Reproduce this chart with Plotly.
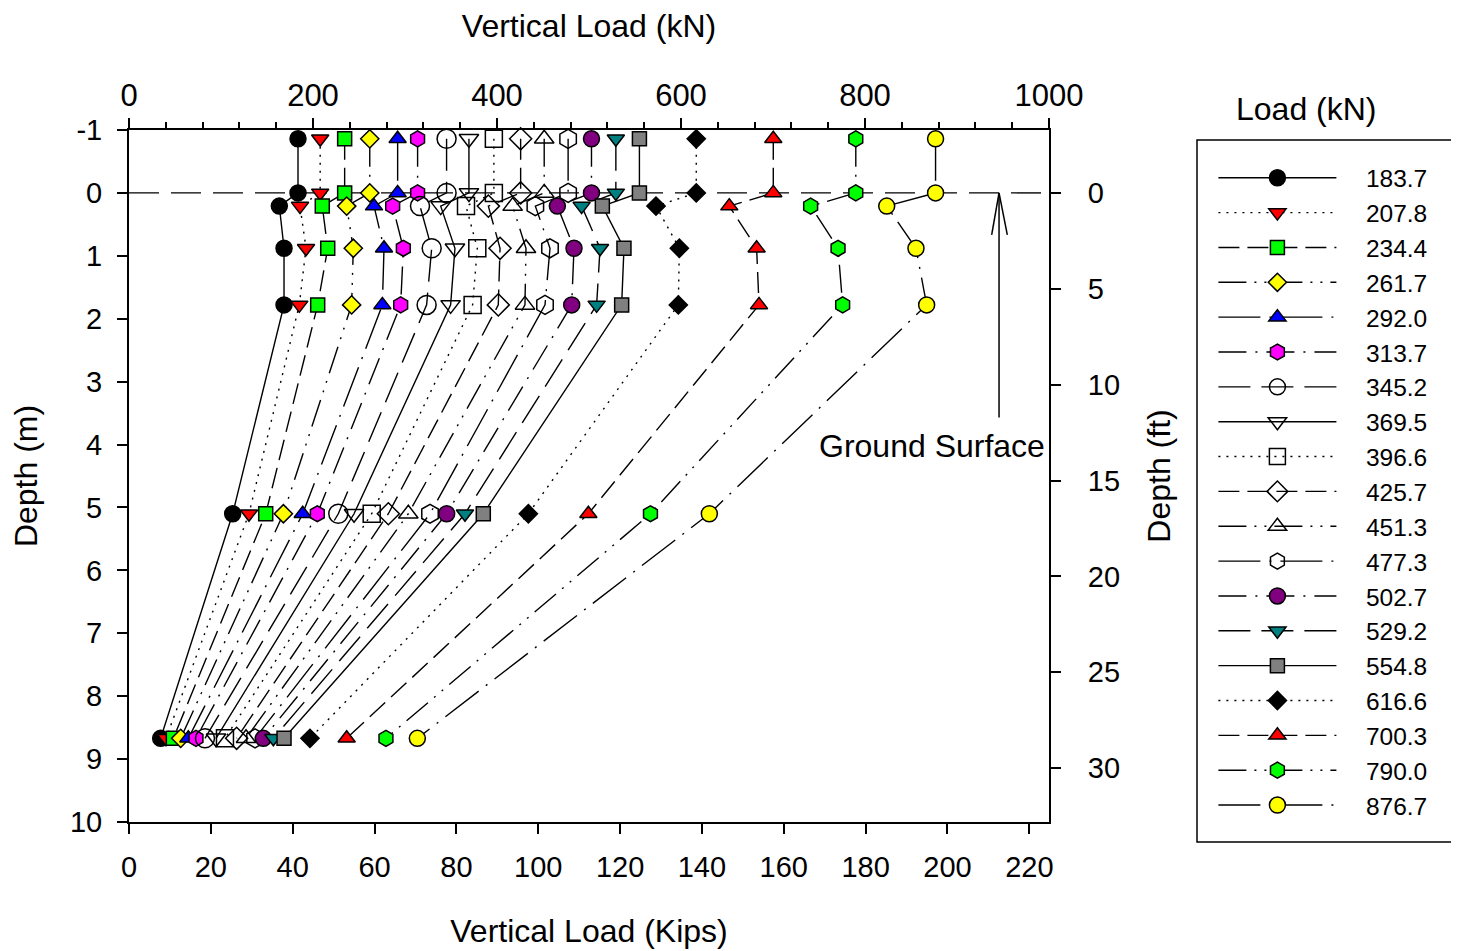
import plotly.graph_objects as go

# ---------------- data ----------------
loads_kN = [183.7, 207.8, 234.4, 261.7, 292.0, 313.7, 345.2, 369.5, 396.6, 425.7,
            451.3, 477.3, 502.7, 529.2, 554.8, 616.6, 700.3, 790.0, 876.7]

depths_m = [-0.86, 0.0, 0.21, 0.88, 1.78, 5.10, 8.67]

# vertical load (kN) measured at each depth, one value per load step
load_at_0p21 = [163.4, 185.9, 210.1, 236.6, 266.3, 286.6, 316.3, 338.8, 366.3, 390.6,
                417.0, 441.7, 465.6, 492.0, 514.5, 572.8, 652.5, 740.9, 823.6]
load_at_0p88 = [168.5, 192.4, 216.0, 243.8, 277.2, 298.2, 329.0, 354.3, 378.6, 403.3,
                431.5, 457.6, 483.7, 512.0, 538.0, 598.2, 682.2, 770.7, 855.4]
load_at_1p78 = [168.5, 185.1, 205.1, 242.0, 275.4, 295.3, 323.5, 349.6, 373.5, 401.4,
                430.4, 452.2, 481.2, 508.3, 535.5, 597.1, 684.8, 775.7, 867.0]
load_at_5p10 = [112.7, 130.4, 148.6, 167.8, 188.8, 204.7, 227.5, 244.6, 263.8, 281.9,
                303.6, 327.2, 345.3, 365.2, 385.1, 434.1, 499.3, 566.8, 630.8]
load_at_8p67 = [34.4, 40.2, 48.2, 56.2, 64.5, 72.8, 82.6, 94.6, 104.3, 117.0,
                127.2, 137.0, 146.0, 156.9, 168.5, 196.7, 236.6, 279.3, 313.4]

depth_m_ticks = [-1, 0, 1, 2, 3, 4, 5, 6, 7, 8, 9, 10]
depth_m_labels = ["-1", "0", "1", "2", "3", "4", "5", "6", "7", "8", "9", "10"]

kN_per_kip = 4.448222
m_per_ft = 0.3048

# ---------------- styles ----------------
symbols = ["circle", "triangle-down", "square", "diamond", "triangle-up", "hexagon",
           "circle-open", "triangle-down-open", "square-open", "diamond-open",
           "triangle-up-open", "hexagon-open",
           "circle", "triangle-down", "square", "diamond", "triangle-up", "hexagon", "circle"]
colors = ["#000000", "#FF0000", "#00FF00", "#FFFF00", "#0000FF", "#FF00FF",
          "#000000", "#000000", "#000000", "#000000", "#000000", "#000000",
          "#800080", "#008080", "#808080", "#000000", "#FF0000", "#00FF00", "#FFFF00"]
dash_cycle = ["solid", "2px,6px", "21px,8px", "28px,8px,2px,8px,2px,8px",
              "42px,9px,2px,9px", "28px,9px,2px,9px", "32px,11px"]
size_by_symbol = {"circle": 16, "triangle-down": 15, "square": 14, "diamond": 14,
                  "triangle-up": 15, "hexagon": 16,
                  "circle-open": 19, "triangle-down-open": 17, "square-open": 17,
                  "diamond-open": 17, "triangle-up-open": 17, "hexagon-open": 19}

FONT = "Liberation Sans, Arial, sans-serif"

fig = go.Figure()
for i, load in enumerate(loads_kN):
    xs = [load, load, load_at_0p21[i], load_at_0p88[i], load_at_1p78[i],
          load_at_5p10[i], load_at_8p67[i]]
    fig.add_trace(go.Scatter(
        x=xs, y=depths_m, mode="lines+markers", name="\u2003" + f"{load:.1f}",
        line=dict(color="black", width=1.4, dash=dash_cycle[i % 7]),
        marker=dict(symbol=symbols[i], color=colors[i], size=size_by_symbol[symbols[i]],
                    line=dict(color="black", width=1.5)),
        cliponaxis=False,
    ))

# carrier trace for the secondary (kips / ft) axes
fig.add_trace(go.Scatter(x=[None], y=[None], xaxis="x2", yaxis="y2",
                         showlegend=False, hoverinfo="skip"))


def axis_style(tick_size=29):
    return dict(showgrid=False, zeroline=False, showline=True, linecolor="black",
                linewidth=2, ticks="outside", ticklen=10, tickwidth=1.5, automargin=False,
                tickcolor="black", tickfont=dict(size=tick_size, family=FONT, color="black"))


TITLE_FONT = dict(size=32, family=FONT, color="black")

fig.update_layout(
    width=1451, height=943,
    margin=dict(l=121, r=410, t=122, b=129),
    paper_bgcolor="white", plot_bgcolor="white",
    font=dict(family=FONT, color="black"),
    xaxis=dict(**axis_style(31), side="top", anchor="y", range=[0, 1000], tick0=0, dtick=200,
               minor=dict(dtick=40, ticks="outside", ticklen=6, tickwidth=1.5, tickcolor="black"),
               title=dict(text="Vertical Load (kN)", font=TITLE_FONT, standoff=40)),
    xaxis2=dict(**axis_style(29), side="bottom", anchor="y", overlaying="x",
                range=[0, 1000 / kN_per_kip], tick0=0, dtick=20, ticklabelstandoff=8,
                title=dict(text="Vertical Load (Kips)", font=TITLE_FONT, standoff=38)),
    yaxis=dict(**axis_style(29), side="left", anchor="x", range=[10, -1],
               tickmode="array", tickvals=depth_m_ticks, ticktext=depth_m_labels,
               ticklabelstandoff=9,
               title=dict(text="Depth (m)", font=TITLE_FONT, standoff=31)),
    yaxis2=dict(**axis_style(29), side="right", anchor="x", overlaying="y",
                range=[10 / m_per_ft, -1 / m_per_ft], tick0=0, dtick=5, ticklabelstandoff=21,
                title=dict(text="Depth (ft)", font=TITLE_FONT, standoff=29)),
    legend=dict(x=1.1787, y=0.9634, xanchor="left", yanchor="top", itemwidth=118,
                bgcolor="rgba(0,0,0,0)", borderwidth=0, traceorder="normal",
                font=dict(size=24.5, family=FONT, color="black")),
    showlegend=True,
)

# ground surface line and arrow
fig.add_shape(type="line", xref="x", yref="y", x0=0, x1=1000, y0=0, y1=0,
              line=dict(color="black", width=1.4, dash="30px,12px"), layer="below")
fig.add_shape(type="line", xref="x", yref="y", x0=945.7, x1=945.7, y0=3.57, y1=0.0,
              line=dict(color="black", width=1.5))
fig.add_shape(type="line", xref="x", yref="y", x0=937.7, x1=945.7, y0=0.667, y1=0.0,
              line=dict(color="black", width=1.5))
fig.add_shape(type="line", xref="x", yref="y", x0=954.7, x1=945.7, y0=0.667, y1=0.0,
              line=dict(color="black", width=1.5))
fig.add_annotation(x=873, y=4.03, xref="x", yref="y", text="Ground Surface",
                   xanchor="center", yanchor="middle", showarrow=False, font=TITLE_FONT)

# legend frame and heading
fig.add_shape(type="rect", xref="paper", yref="paper",
              x0=(1197 - 129) / 920, x1=(1453 - 129) / 920,
              y0=(822 - 842) / 692, y1=(822 - 140) / 692,
              line=dict(color="black", width=1.5))
fig.add_annotation(x=(1306 - 129) / 920, y=(822 - 109) / 692, xref="paper", yref="paper",
                   text="Load (kN)", xanchor="center", yanchor="middle", showarrow=False,
                   font=TITLE_FONT)

fig.write_html("out.html")
